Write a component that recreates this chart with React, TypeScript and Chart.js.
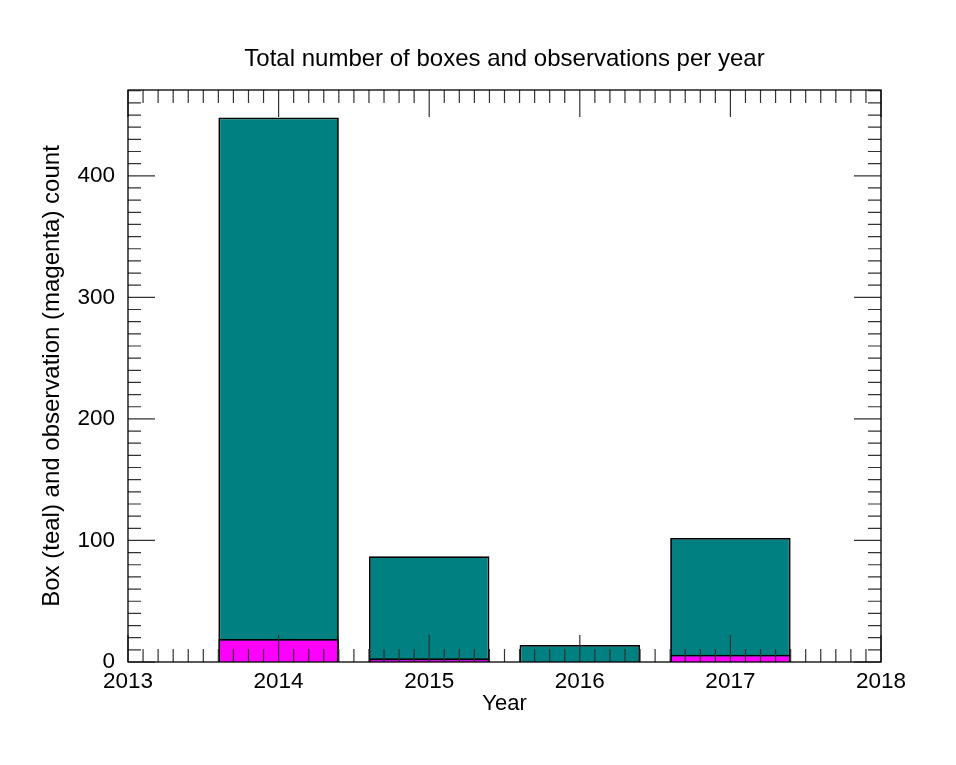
import React, { useEffect, useRef } from "react";
import { Chart, registerables } from "chart.js";

Chart.register(...registerables);

const years = [2014, 2015, 2016, 2017];
const boxCounts = [448, 87, 14, 102];
const observationCounts = [19, 3, 0, 6];
const xTickLabels = ["2013", "2014", "2015", "2016", "2017", "2018"];
const yTickLabels = ["0", "100", "200", "300", "400"];
const chartTitle = "Total number of boxes and observations per year";
const xTitle = "Year";
const yTitle = "Box (teal) and observation (magenta) count";

const FONT = "'Liberation Sans', Arial, Helvetica, sans-serif";

const tickPlugin = {
  id: "idlTicks",
  afterDatasetsDraw(chart: any) {
    const { ctx, chartArea, scales } = chart;
    const { left, right, top, bottom } = chartArea;
    const xs = scales.x;
    const ys = scales.y;
    ctx.save();
    ctx.strokeStyle = "#333";
    ctx.lineWidth = 1.2;
    const major = 27;
    const minor = 13;
    for (let i = 0; i <= 50; i++) {
      const v = xs.min + i * 0.1;
      const px = xs.getPixelForValue(v);
      const len = i % 10 === 0 ? major : minor;
      ctx.beginPath();
      ctx.moveTo(px, bottom);
      ctx.lineTo(px, bottom - len);
      ctx.moveTo(px, top);
      ctx.lineTo(px, top + len);
      ctx.stroke();
    }
    for (let v = 0; v <= ys.max; v += 10) {
      const py = ys.getPixelForValue(v);
      const len = v % 100 === 0 ? major : minor;
      ctx.beginPath();
      ctx.moveTo(left, py);
      ctx.lineTo(left + len, py);
      ctx.moveTo(right, py);
      ctx.lineTo(right - len, py);
      ctx.stroke();
    }
    ctx.strokeStyle = "#000";
    ctx.lineWidth = 1.3;
    ctx.strokeRect(left, top, right - left, bottom - top);
    ctx.restore();
  },
  afterDraw(chart: any) {
    const { ctx, chartArea } = chart;
    const { left, right, top, bottom } = chartArea;
    const cx = (left + right) / 2;
    ctx.save();
    ctx.fillStyle = "#000";
    ctx.textAlign = "center";
    ctx.textBaseline = "middle";
    ctx.font = `24px ${FONT}`;
    ctx.fillText(chartTitle, cx, 59);
    ctx.font = `22px ${FONT}`;
    ctx.fillText(xTitle, cx, 704);
    ctx.font = `24px ${FONT}`;
    ctx.translate(52, (top + bottom) / 2);
    ctx.rotate(-Math.PI / 2);
    ctx.fillText(yTitle, 0, 0);
    ctx.restore();
  },
};

export default function App() {
  const ref = useRef<HTMLCanvasElement>(null);
  useEffect(() => {
    if (!ref.current) return;
    const chart = new Chart(ref.current, {
      type: "bar",
      data: {
        datasets: [
          {
            label: "Observations",
            data: years.map((y, i) => ({ x: y, y: observationCounts[i] })),
            backgroundColor: "#ff00ff",
            borderColor: "#000",
            borderWidth: 1.8,
            barPercentage: 0.8,
            categoryPercentage: 1,
            grouped: false,
            order: 0,
          } as any,
          {
            label: "Boxes",
            data: years.map((y, i) => ({ x: y, y: boxCounts[i] })),
            backgroundColor: "#008080",
            borderColor: "#000",
            borderWidth: 1.8,
            barPercentage: 0.8,
            categoryPercentage: 1,
            grouped: false,
            order: 1,
          } as any,
        ],
      },
      options: {
        animation: false,
        responsive: false,
        maintainAspectRatio: false,
        layout: { padding: { left: 0, top: 90, right: 75, bottom: 0 } },
        plugins: {
          legend: { display: false },
          tooltip: { enabled: false },
          title: { display: false },
        },
        scales: {
          x: {
            type: "linear",
            min: 2013,
            max: 2018,
            offset: false,
            grid: { display: false, drawTicks: false },
            border: { display: false },
            afterFit: (s: any) => {
              s.height = 103;
            },
            afterBuildTicks: (s: any) => {
              s.ticks = xTickLabels.map((t) => ({ value: Number(t) }));
            },
            ticks: {
              autoSkip: false,
              maxRotation: 0,
              padding: 6,
              color: "#000",
              font: { family: FONT, size: 22.5 },
              callback: (v: any) => String(v),
            },
          },
          y: {
            type: "linear",
            min: 0,
            max: 470.6,
            grid: { display: false, drawTicks: false },
            border: { display: false },
            afterFit: (s: any) => {
              s.width = 128;
            },
            afterBuildTicks: (s: any) => {
              s.ticks = yTickLabels.map((t) => ({ value: Number(t) }));
            },
            ticks: {
              autoSkip: false,
              padding: 13,
              color: "#000",
              font: { family: FONT, size: 22.5 },
              callback: (v: any) => String(v),
            },
          },
        },
      },
      plugins: [tickPlugin],
    } as any);
    return () => chart.destroy();
  }, []);
  return (
    <div style={{ position: "fixed", left: 0, top: 0, width: 956, height: 765, background: "#fff" }}>
      <canvas ref={ref} width={956} height={765} style={{ width: 956, height: 765 }} />
    </div>
  );
}
